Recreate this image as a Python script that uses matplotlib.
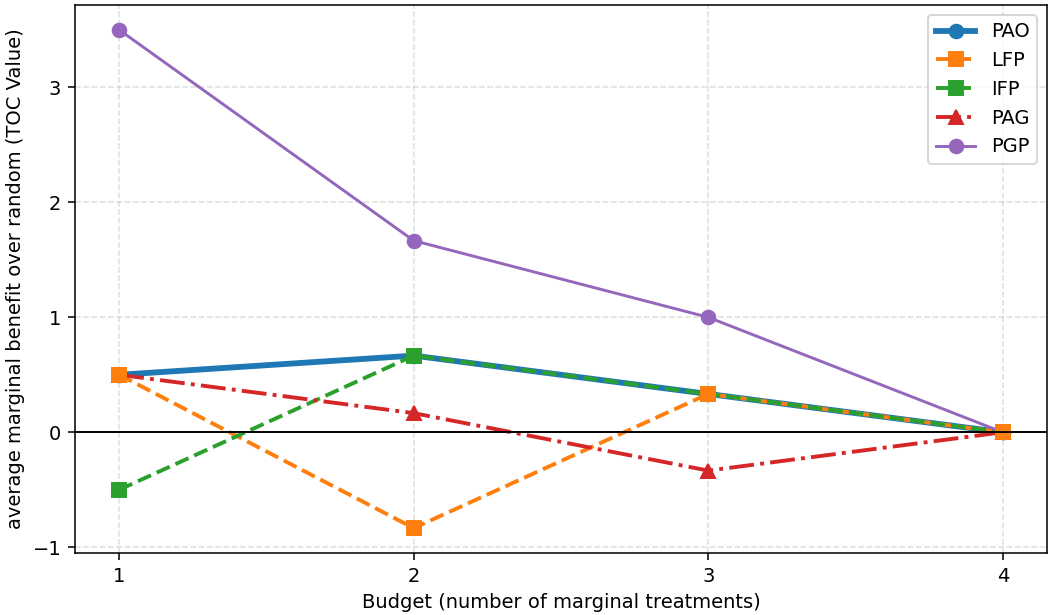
import numpy as np
import matplotlib
matplotlib.use("Agg")
import matplotlib.pyplot as plt

budget = [1, 2, 3, 4]
pao = [0.5, 2 / 3, 1 / 3, 0.0]
lfp = [0.5, -5 / 6, 1 / 3, 0.0]
ifp = [-0.5, 2 / 3, 1 / 3, 0.0]
pag = [0.5, 1 / 6, -1 / 3, 0.0]
pgp = [3.5, 5 / 3, 1.0, 0.0]

# drawn at 140 dpi so default sizes come out like the reference
fig = plt.figure(figsize=(7.5, 615 / 140), dpi=140)
ax = fig.add_axes([0.0714, 0.1008, 0.9257, 0.8912])

ax.plot(budget, pao, "-o", color="tab:blue", lw=3, ms=7, label="PAO")
ax.plot(budget, lfp, "--s", color="tab:orange", lw=2, ms=7, label="LFP")
ax.plot(budget, ifp, "--s", color="tab:green", lw=2, ms=7, label="IFP")
ax.plot(budget, pag, "-.^", color="tab:red", lw=2, ms=7, label="PAG")
ax.plot(budget, pgp, "-o", color="tab:purple", lw=1.5, ms=7, label="PGP")
# orange squares sit on top at 1, 3 and 4 in the reference
ax.plot([1, 3, 4], [lfp[0], lfp[2], lfp[3]], "s", color="tab:orange", ms=7)

ax.axhline(0, color="black", lw=1)
ax.set_xticks(budget)
ax.set_xlabel("Budget (number of marginal treatments)")
ax.set_ylabel("average marginal benefit over random (TOC Value)")
ax.grid(True, linestyle="--", alpha=0.4)
ax.legend(loc="upper right")

fig.savefig("out.png", dpi=140)
